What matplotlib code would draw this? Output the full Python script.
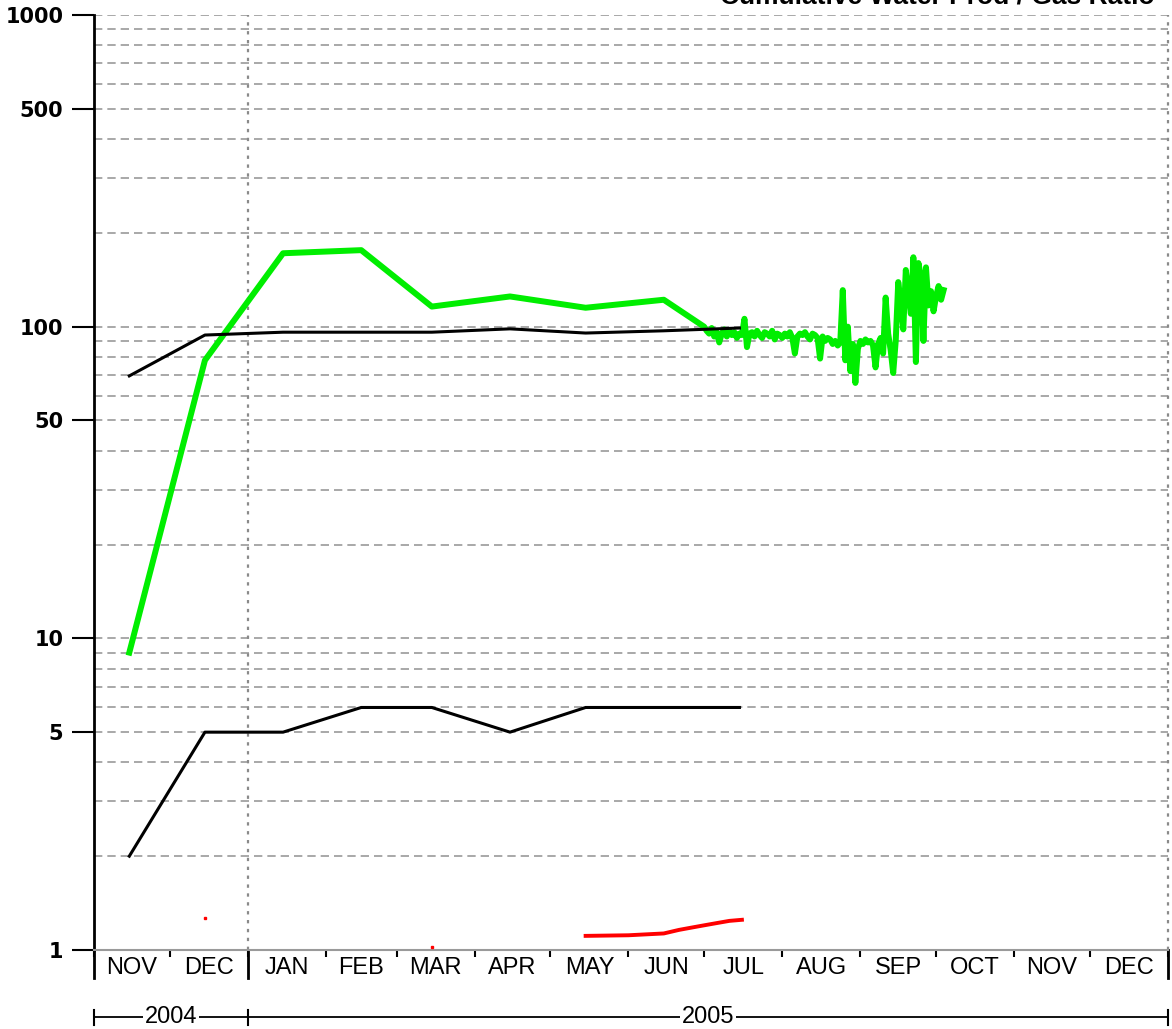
import matplotlib
matplotlib.use('Agg')
import matplotlib.pyplot as plt
import matplotlib.dates as mdates
import matplotlib.transforms as mtransforms
import numpy as np
import pandas as pd

plt.rcParams['font.family'] = ['Liberation Sans', 'DejaVu Sans']

# monthly values, plotted mid-month
month_dates = pd.to_datetime(['2004-11-15', '2004-12-15', '2005-01-15', '2005-02-15',
                              '2005-03-15', '2005-04-15', '2005-05-15', '2005-06-15',
                              '2005-07-15'])
black_upper = [69.5, 94, 96, 96, 96, 98.4, 95.4, 97, 99]
black_lower = [2.0, 5.0, 5.0, 6.0, 6.0, 5.0, 6.0, 6.0, 6.0]
green_monthly = [9.0, 78, 172, 176, 116, 125, 115, 122]

# daily green values from 1 Jul 2005
green_daily = [100, 97, 95, 99, 93, 96, 89, 95, 98, 93, 97, 94, 96, 92, 95, 94,
               106, 86,
               95, 96, 93, 97, 94, 92, 96, 95, 93, 97, 91, 95, 94,
               92, 95, 93, 96, 92, 82,
               93, 95, 94, 96, 93, 91, 95, 94, 92, 79,
               93, 90, 92, 91, 88, 90, 87, 89,
               131, 78, 100, 72, 88, 66, 85,
               90, 88, 91, 89, 90, 87, 74, 88, 92, 82,
               124, 95, 84, 71, 90, 139, 120, 98, 152, 130, 110, 167, 77,
               160, 145, 90, 155, 117, 130, 112, 125, 135, 122, 131]

red_dates = pd.to_datetime(['2005-05-15', '2005-06-01', '2005-06-15', '2005-06-21',
                            '2005-06-26', '2005-07-01', '2005-07-06', '2005-07-11',
                            '2005-07-16'])
red_vals = [1.11, 1.115, 1.13, 1.16, 1.18, 1.20, 1.22, 1.24, 1.25]
red_spot_dates = pd.to_datetime(['2004-12-15', '2005-03-15'])
red_spot_vals = [1.27, 1.02]

month_labels = ['NOV', 'DEC', 'JAN', 'FEB', 'MAR', 'APR', 'MAY', 'JUN',
                'JUL', 'AUG', 'SEP', 'OCT', 'NOV', 'DEC']
year_labels = ['2004', '2005']
ytick_vals = [1, 5, 10, 50, 100, 500, 1000]

month_starts = pd.date_range('2004-11-01', '2006-01-01', freq='MS')
year_edges = pd.to_datetime(['2004-11-01', '2005-01-01', '2006-01-01'])

fig = plt.figure(figsize=(11.72, 10.29), dpi=100)
ax = fig.add_axes([94 / 1172, 79 / 1029, 1074 / 1172, 935 / 1029])

ax.set_yscale('log')
ax.set_ylim(1, 1000)
ax.set_xlim(month_starts[0], month_starts[-1])

# grid
ax.yaxis.set_minor_locator(matplotlib.ticker.LogLocator(base=10, subs=np.arange(2, 10)))
ax.yaxis.set_minor_formatter(matplotlib.ticker.NullFormatter())
ax.set_yticks(ytick_vals)
ax.set_yticklabels([str(v) for v in ytick_vals], fontsize=15, fontweight='bold',
                   family='DejaVu Sans')
ax.grid(True, which='both', axis='y', color='#9a9a9a', linestyle=(0, (5, 3)), linewidth=1.2)
ax.tick_params(axis='y', which='major', length=16, width=1.5, direction='out', pad=6)
ax.tick_params(axis='y', which='minor', length=0)

ax.axvline(year_edges[1], color='#8a8a8a', linestyle=(0, (1.5, 2.5)), linewidth=1.6)
ax.axvline(year_edges[2], color='#8a8a8a', linestyle=(0, (1.5, 2.5)), linewidth=1.6, clip_on=False)

ax.spines['top'].set_visible(False)
ax.spines['right'].set_visible(False)
ax.spines['left'].set_linewidth(2)
ax.spines['bottom'].set_color('#9a9a9a')
ax.spines['bottom'].set_linewidth(1.5)

ax.set_xticks(month_starts)
ax.set_xticklabels([])
ax.tick_params(axis='x', length=5, width=1.5, direction='out', color='black')

# data
green_dates = list(month_dates[:len(green_monthly)]) + \
    list(pd.date_range('2005-07-01', periods=len(green_daily), freq='D'))
ax.plot(green_dates, green_monthly + green_daily, color='#00ee00', linewidth=4.3, zorder=3)
ax.plot(month_dates, black_upper, color='black', linewidth=2.2, zorder=4)
ax.plot(month_dates, black_lower, color='black', linewidth=2.2, zorder=4)
ax.plot(red_dates, red_vals, color='#ff0000', linewidth=2.8, zorder=4)
ax.plot(red_spot_dates, red_spot_vals, linestyle='none', marker='s', markersize=2,
        color='#ff0000', zorder=4)

# month labels and year row
trans = mtransforms.blended_transform_factory(ax.transData, ax.transAxes)
mids = month_starts[:-1] + (month_starts[1:] - month_starts[:-1]) / 2
for m, lab in zip(mids, month_labels):
    ax.text(m, -0.0195, lab, transform=trans, ha='center', va='center', fontsize=17)

for e in year_edges:
    ax.plot([e, e], [0, -0.03], transform=trans, color='black', linewidth=2, clip_on=False)

y_year = -0.0717
for i, lab in enumerate(year_labels):
    a, b = year_edges[i], year_edges[i + 1]
    ax.plot([a, b], [y_year, y_year], transform=trans, color='black', linewidth=1.3, clip_on=False)
    ax.plot([a, a], [y_year - 0.008, y_year + 0.008], transform=trans, color='black', linewidth=1.5, clip_on=False)
    mid = a + (b - a) / 2
    ax.text(mid, y_year, lab, transform=trans, ha='center', va='center', fontsize=17,
            bbox=dict(facecolor='white', edgecolor='none', pad=1))
ax.plot([year_edges[-1], year_edges[-1]], [y_year - 0.008, y_year + 0.008], transform=trans,
        color='black', linewidth=1.5, clip_on=False)

# chart title, mostly above the top edge as in the source image
fig.text(1155 / 1172, 1 - 4 / 1029, 'Cumulative Water Prod / Gas Ratio', ha='right', va='baseline',
         fontsize=19, fontweight='bold')

fig.savefig('out.png', dpi=100)
